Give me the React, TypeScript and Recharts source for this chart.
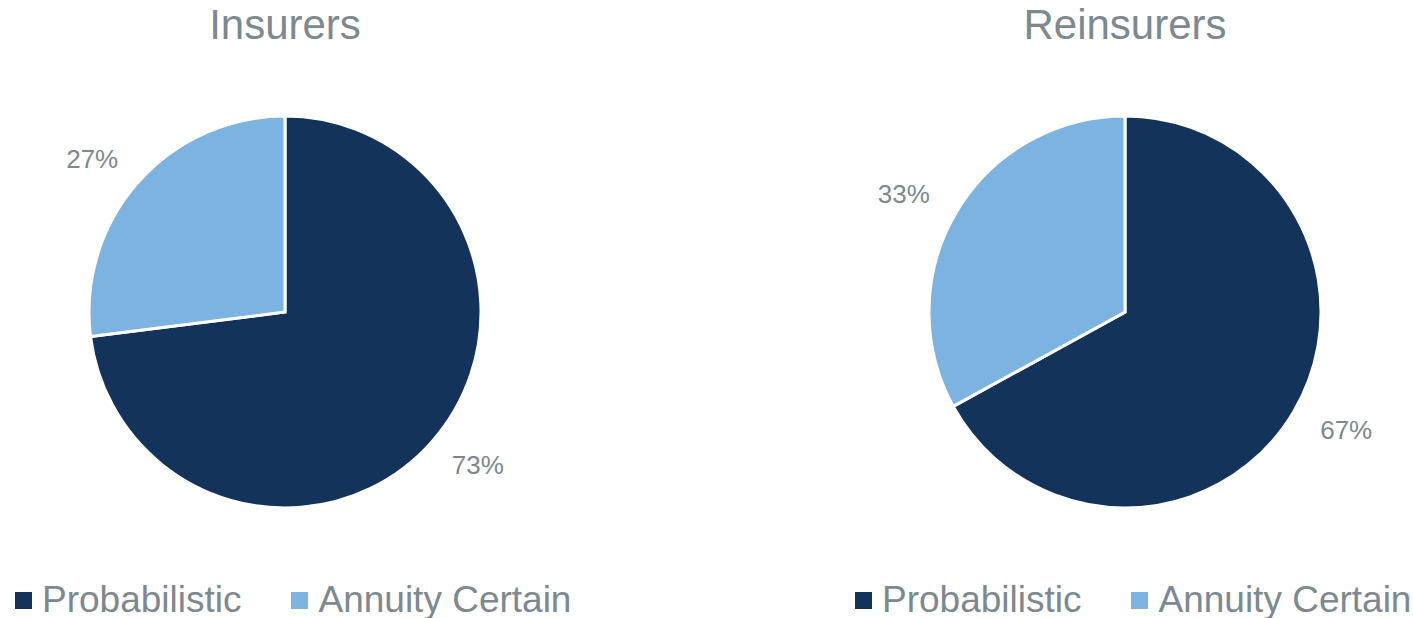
import { PieChart, Pie, Cell, Legend } from 'recharts';

const categories = ['Probabilistic', 'Annuity Certain'];
const insurersValues = [73, 27];
const reinsurersValues = [67, 33];
const chartTitles = ['Insurers', 'Reinsurers'];
const sliceColors = ['#13335A', '#7DB3E0'];

const GREY = '#7D888F';
const FONT = '"Liberation Sans", Arial, sans-serif';
const RAD = Math.PI / 180;

const renderLabel = (props: any) => {
  const { cx, cy, midAngle, outerRadius, value } = props;
  const x = cx + (outerRadius + 61) * Math.cos(-midAngle * RAD);
  const y = cy + (outerRadius + 35) * Math.sin(-midAngle * RAD);
  return (
    <text
      x={x}
      y={y}
      fill={GREY}
      fontSize={26}
      fontFamily={FONT}
      textAnchor="middle"
      dominantBaseline="central"
    >
      {`${value}%`}
    </text>
  );
};

const LegendContent = () => (
  <div style={{ display: 'flex', alignItems: 'center', fontFamily: FONT, fontSize: 37, color: GREY }}>
    {categories.map((c, i) => (
      <div key={c} style={{ display: 'flex', alignItems: 'center', marginRight: i === 0 ? 50 : 0 }}>
        <span
          style={{ display: 'inline-block', width: 17, height: 17, background: sliceColors[i], marginRight: 10 }}
        />
        <span style={{ lineHeight: '40px' }}>{c}</span>
      </div>
    ))}
  </div>
);

function OnePie({ title, values, left }: { title: string; values: number[]; left: number }) {
  const data = categories.map((name, i) => ({ name, value: values[i] }));
  return (
    <div style={{ position: 'absolute', left, top: 0, width: 570, height: 618 }}>
      <div
        style={{
          position: 'absolute',
          top: 0,
          left: 0,
          width: 570,
          textAlign: 'center',
          fontFamily: FONT,
          fontSize: 42,
          lineHeight: '50px',
          color: GREY,
        }}
      >
        {title}
      </div>
      <PieChart width={570} height={618} margin={{ top: 0, right: 0, bottom: 0, left: 0 }}>
        <Pie
          data={data}
          dataKey="value"
          nameKey="name"
          cx={285}
          cy={312}
          outerRadius={196}
          startAngle={90}
          endAngle={-270}
          stroke="#FFFFFF"
          strokeWidth={3}
          label={renderLabel}
          labelLine={false}
          isAnimationActive={false}
        >
          {data.map((d, i) => (
            <Cell key={`cell-${i}`} fill={sliceColors[i]} />
          ))}
        </Pie>
        <Legend
          content={<LegendContent />}
          wrapperStyle={{ position: 'absolute', left: 15, top: 580, width: 560, bottom: 'auto' }}
        />
      </PieChart>
    </div>
  );
}

export default function App() {
  return (
    <div style={{ position: 'absolute', left: 0, top: 0, width: 1413, height: 618, background: '#FFFFFF' }}>
      <OnePie title={chartTitles[0]} values={insurersValues} left={0} />
      <OnePie title={chartTitles[1]} values={reinsurersValues} left={840} />
    </div>
  );
}
